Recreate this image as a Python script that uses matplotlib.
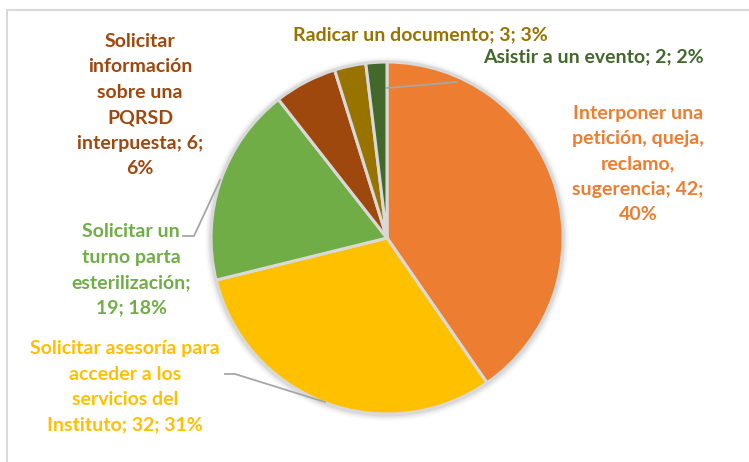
import matplotlib
matplotlib.use("Agg")
import matplotlib.pyplot as plt
from matplotlib.patches import Rectangle, Circle

# Datos
categorias = [
    "Interponer una\npetición, queja,\nreclamo,\nsugerencia",
    "Solicitar asesoría para\nacceder a los\nservicios del\nInstituto",
    "Solicitar un\nturno parta\nesterilización",
    "Solicitar\ninformación\nsobre una\nPQRSD\ninterpuesta",
    "Radicar un documento",
    "Asistir a un evento",
]
valores = [42, 32, 19, 6, 3, 2]
formato = ["; {v};\n{p}%", "; {v}; {p}%", ";\n{v}; {p}%", "; {v};\n{p}%", "; {v}; {p}%", "; {v}; {p}%"]
colores = ["#ED7D31", "#FFC000", "#70AD47", "#9E480E", "#997300", "#43682B"]

total = sum(valores)
etiquetas = [c + f.format(v=v, p=round(v * 100 / total)) for c, f, v in zip(categorias, formato, valores)]

H = 462
plt.rcParams["font.family"] = ["Lato", "DejaVu Sans"]
fig = plt.figure(figsize=(7.49, 4.62), dpi=100)
ax = fig.add_axes([0, 0, 1, 1])

# marco
ax.add_patch(Rectangle((7, -20), 800, H - 10 + 20, fill=False, ec="#D9D9D9", lw=1.5))

cx, cy, r = 387, H - 238, 176
# sombra suave
for i, a in enumerate([0.05, 0.04, 0.03, 0.02]):
    ax.add_patch(Circle((cx, cy - 1), r + 1.5 + i * 1.5, color="black", alpha=a, lw=0))

ax.pie(valores, colors=colores, startangle=90, counterclock=False,
       center=(cx, cy), radius=r, frame=True,
       wedgeprops=dict(edgecolor="#D9D9D9", linewidth=2.2))
ax.set_xlim(0, 749)
ax.set_ylim(0, H)
ax.axis("off")

# posiciones de etiquetas (px, desde arriba)
pos = [(638, 164), (125, 387), (131, 270), (140, 105), (420, 35), (593, 57)]
for (x, y), t, c in zip(pos, etiquetas, colores):
    ax.text(x, H - y, t, color=c, ha="center", va="center", fontsize=14,
            fontweight="bold", linespacing=1.6)

# líneas guía
gris = "#A6A6A6"
ax.plot([183, 194, 220], [H - 236, H - 236, H - 180], color=gris, lw=1.3)
ax.plot([225, 235, 325], [H - 374, H - 374, H - 402], color=gris, lw=1.3)
ax.plot([387, 457], [H - 88, H - 82], color=gris, lw=1.3)

fig.savefig("out.png", dpi=100)
